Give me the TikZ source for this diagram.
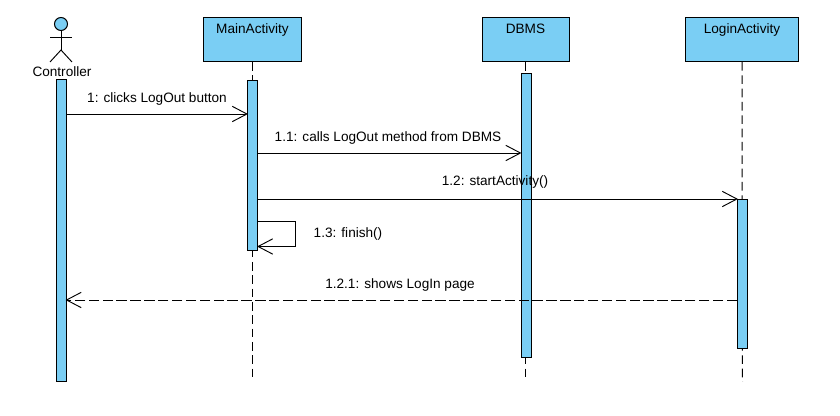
\documentclass[tikz,border=0pt]{standalone}
\usepackage{fontspec}
\setmainfont{Liberation Sans}
\usetikzlibrary{arrows.meta}
\definecolor{barblue}{HTML}{7ACEF4}
\tikzset{
  headbox/.style={draw, line width=0.75pt, fill=barblue, inner xsep=0pt, inner ysep=0pt, text height=12pt, text depth=21pt},
  activation/.style={draw, line width=0.75pt, fill=barblue, inner sep=0pt, minimum width=7.5pt},
  lifeline/.style={line width=0.75pt, dash pattern=on 6.5pt off 3.5pt},
  message/.style={line width=0.7pt, shorten >=-0.7pt, -{Straight Barb[length=11pt, width=11.5pt, line width=0.7pt]}},
  reply/.style={message, dash pattern=on 7.8pt off 2.6pt},
  msglabel/.style={inner sep=0pt}
}
\begin{document}
\begin{tikzpicture}[x=0.75pt, y=-0.75pt, font=\fontsize{10.2}{12}\selectfont]
\useasboundingbox (0,0) rectangle (840,416);

\node (main) [headbox, minimum width=73.5pt] at (252.5,39.5) {MainActivity};
\node (dbms) [headbox, minimum width=65.25pt] at (525.5,39.5) {DBMS};
\node (login) [headbox, minimum width=84.75pt] at (742,39.5) {LoginActivity};

\node (ctrlhead) [draw, circle, line width=0.75pt, fill=barblue, inner sep=0pt, minimum size=9.75pt] at (61,24) {};
\node (controller) [inner sep=0pt] at (62,71.5) {Controller};
\coordinate (armleft) at (50,37);
\coordinate (armright) at (72,37);
\coordinate (hip) at (61,50);
\coordinate (footleft) at (50,62);
\coordinate (footright) at (72,62);
\draw [line width=0.7pt] (armleft) -- (armright);
\draw [line width=0.7pt] (ctrlhead) -- (hip);
\draw [line width=0.7pt] (footleft) -- (hip) -- (footright);

\coordinate (mainend) at (252.5,382);
\coordinate (dbmsend) at (525.5,382);
\coordinate (loginend) at (742.5,382);
\draw [lifeline] (main.south) -- (mainend);
\draw [lifeline] (dbms.south) -- (dbmsend);
\draw [lifeline] (login.south) -- (loginend);

\node (barctrl) [activation, minimum height=226.5pt] at (61,230.5) {};
\node (barmain) [activation, minimum height=127.5pt] at (252.5,165.5) {};
\node (bardbms) [activation, minimum height=213pt] at (526,215.5) {};
\node (barlogin) [activation, minimum height=112pt] at (742.5,274) {};

% messages
\coordinate (m1) at (0,114);
\coordinate (m11) at (0,153);
\coordinate (m12) at (0,199);
\coordinate (m13a) at (295.5,221.5);
\coordinate (m13b) at (295.5,246.5);
\coordinate (m121) at (0,300);
\draw [message] (barctrl.east |- m1) -- (barmain.west |- m1);
\draw [message] (barmain.east |- m11) -- (bardbms.west |- m11);
\draw [message] (barmain.east |- m12) -- (barlogin.west |- m12);
\draw [message] (barmain.east |- m13a) -- (m13a) -- (m13b) -- (barmain.east |- m13b);
\draw [reply] (barlogin.west |- m121) -- (barctrl.east |- m121);

\node (l1) [msglabel] at (157,98.5) {1: clicks LogOut button};
\node (l11) [msglabel] at (388,137.5) {1.1: calls LogOut method from DBMS};
\node (l12) [msglabel] at (495,181.5) {1.2: startActivity()};
\node (l13) [msglabel] at (348,233.5) {1.3: finish()};
\node (l121) [msglabel] at (400,284.5) {1.2.1: shows LogIn page};
\end{tikzpicture}
\end{document}
